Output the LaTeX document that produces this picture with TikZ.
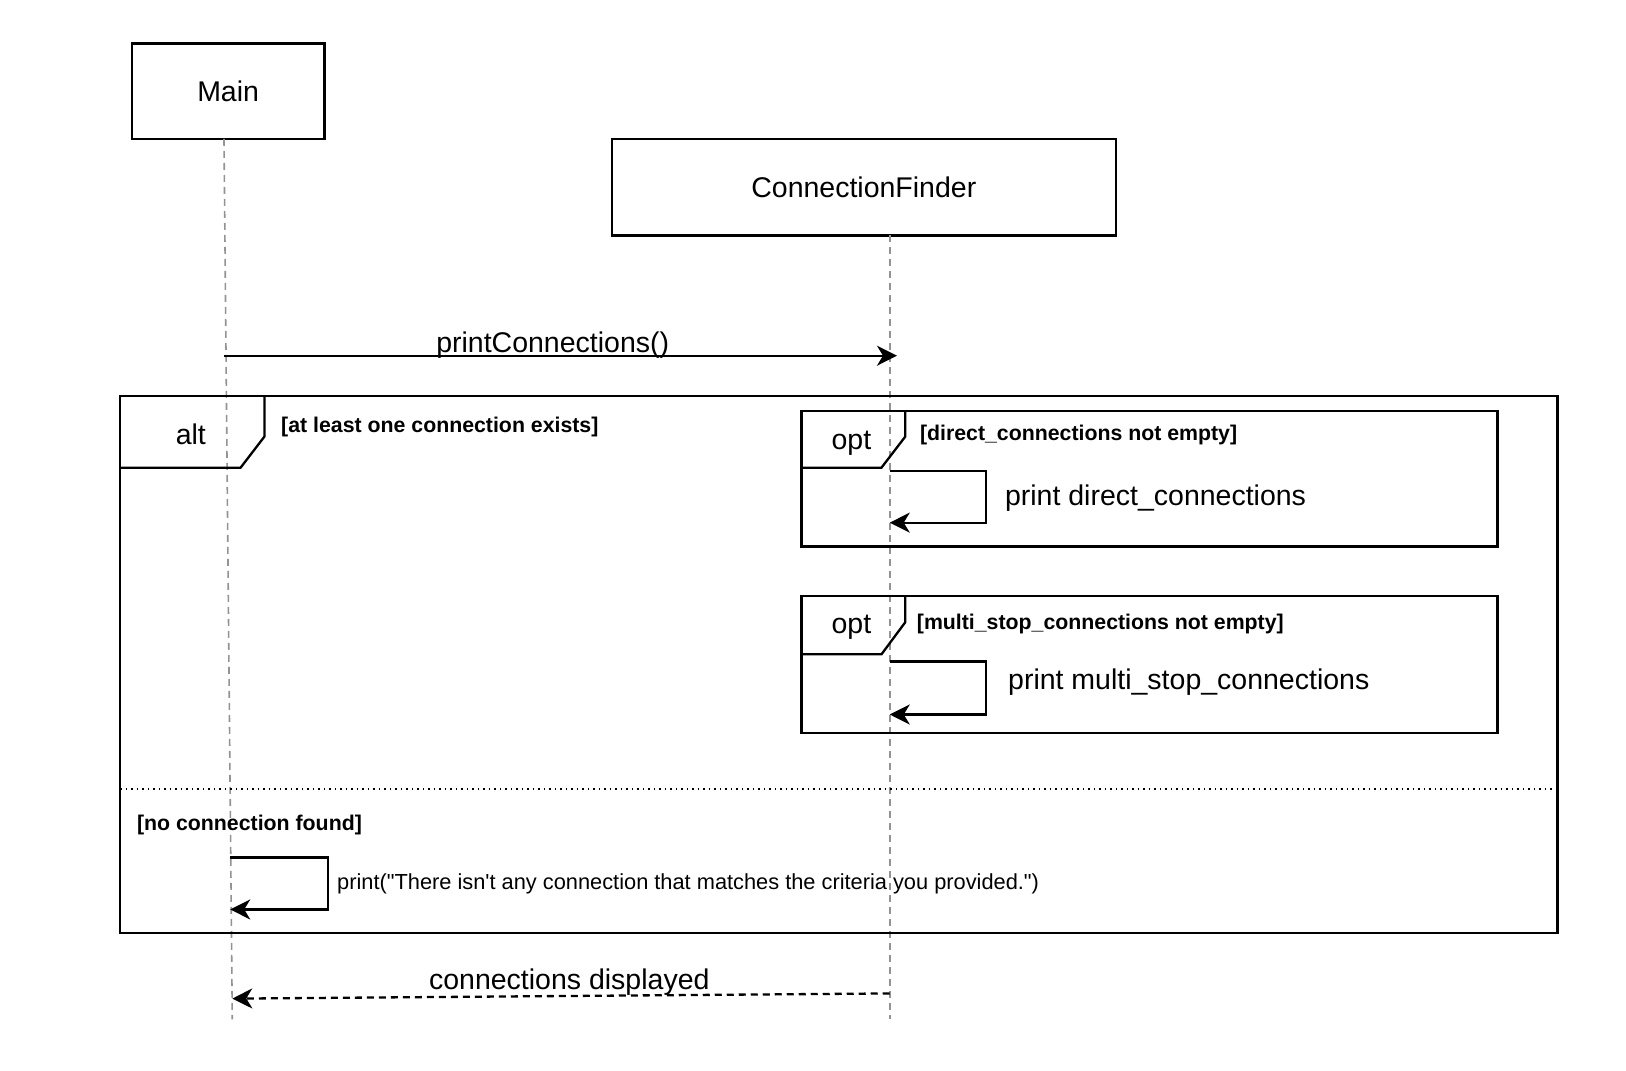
\documentclass[tikz,border=0pt]{standalone}
\usepackage{fontspec}
\setmainfont{Liberation Sans}[Ligatures=TeXOff]
\usetikzlibrary{arrows.meta}
\begin{document}
\begin{tikzpicture}[x=1.037pt,y=-1.037pt,
  actorbox/.style={draw,line width=2.3pt,inner sep=0pt,font=\fontsize{28.5}{34}\selectfont},
  lifeline/.style={draw=gray!85,line width=1.6pt,dash pattern=on 7pt off 5pt},
  msg/.style={line width=2.3pt,-{Stealth[length=20pt,width=20pt,inset=6pt]}},
  retmsg/.style={msg,dash pattern=on 7pt off 5pt},
  frame/.style={line width=2.3pt},
  big/.style={inner sep=0pt,font=\fontsize{28.5}{34}\selectfont},
  guard/.style={inner sep=0pt,anchor=west,font=\fontsize{21.3}{26}\selectfont\bfseries},
  small/.style={inner sep=0pt,anchor=west,font=\fontsize{21.8}{26}\selectfont}]
\useasboundingbox (0,0) rectangle (1568,1032);
\fill[white] (0,0) rectangle (1568,1032);

% actors
\node[actorbox,minimum width=192.9pt,minimum height=95.4pt] (main) at (220,88) {Main};
\node[actorbox,minimum width=504pt,minimum height=96.4pt] (cf) at (833,180.5) {ConnectionFinder};

% lifelines
\coordinate (mainTop) at (216,134);
\coordinate (mainEnd) at (224,983);
\coordinate (cfTop) at (858,227);
\coordinate (cfEnd) at (858,983);
\draw[lifeline] (mainTop) -- (mainEnd);
\draw[lifeline] (cfTop) -- (cfEnd);

% call
\coordinate (callS) at (216,343);
\coordinate (callE) at (865,343);
\draw[msg] (callS) -- (callE);
\node[big] (callL) at (533,333) {printConnections()};

% alt frame
\draw[frame] (116,382) rectangle (1502,900);
\draw[frame] (116,451) -- (232,451) -- (255,421) -- (255,382);
\node[big] (altL) at (184,419) {alt};
\node[guard] (g1) at (271,412) {[at least one connection exists]};

% opt 1
\draw[frame] (773,396) rectangle (1444,527);
\draw[frame] (773,451) -- (850,451) -- (873,421) -- (873,396);
\node[big] (opt1) at (821,427) {opt};
\node[guard] (g2) at (887,419) {[direct\_connections not empty]};
\coordinate (a1) at (858,454);
\coordinate (b1) at (951,454);
\coordinate (c1) at (951,504);
\coordinate (d1) at (858,504);
\draw[msg] (a1) -- (b1) -- (c1) -- (d1);
\node[big,anchor=west] (m1) at (969,480) {print direct\_connections};

% opt 2
\draw[frame] (773,575) rectangle (1444,707);
\draw[frame] (773,631) -- (850,631) -- (873,600) -- (873,575);
\node[big] (opt2) at (821,605) {opt};
\node[guard] (g3) at (884,602) {[multi\_stop\_connections not empty]};
\coordinate (a2) at (858,638);
\coordinate (b2) at (951,638);
\coordinate (c2) at (951,689);
\coordinate (d2) at (858,689);
\draw[msg] (a2) -- (b2) -- (c2) -- (d2);
\node[big,anchor=west] (m2) at (972,658) {print multi\_stop\_connections};

% else
\draw[line width=1.5pt,dash pattern=on 1.5pt off 4pt] (116,761) -- (1502,761);
\node[guard] (g4) at (132,796) {[no connection found]};
\coordinate (a3) at (222,827);
\coordinate (b3) at (316,827);
\coordinate (c3) at (316,877);
\coordinate (d3) at (222,877);
\draw[msg] (a3) -- (b3) -- (c3) -- (d3);
\node[small] (m3) at (325,852) {print("There isn't any connection that matches the criteria you provided.")};

% return
\coordinate (retS) at (858,958);
\coordinate (retE) at (224,963);
\draw[retmsg] (retS) -- (retE);
\node[big] (retL) at (549,947) {connections displayed};
\end{tikzpicture}
\end{document}
